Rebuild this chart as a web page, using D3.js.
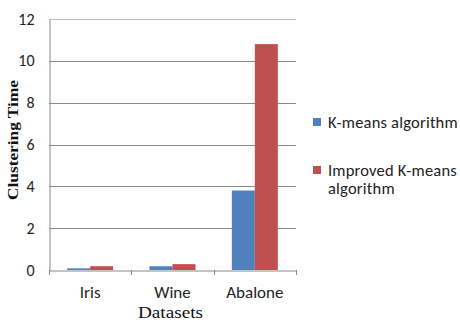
<!DOCTYPE html>
<html>
<head>
<meta charset="utf-8">
<script src="https://cdn.jsdelivr.net/npm/d3@7"></script>
<style>
  body { margin: 0; background: #fff; }
</style>
</head>
<body>
<svg id="chart" width="460" height="322"></svg>
<script>
// chart data
const datasets = ['Iris', 'Wine', 'Abalone'];
const seriesNames = ['K-means algorithm', 'Improved K-means algorithm'];
const kmeans = [0.08, 0.18, 3.8];
const improved = [0.18, 0.28, 10.8];
const yTicks = [0, 2, 4, 6, 8, 10, 12];
const colors = ['#4f81bd', '#c0504d'];

const svg = d3.select('#chart');
const margin = { top: 19, right: 164, bottom: 52, left: 49 };
const innerWidth = 460 - margin.left - margin.right;
const innerHeight = 322 - margin.top - margin.bottom;
const labelFont = 'Carlito, Lato, "Liberation Sans", sans-serif';

const g = svg.append('g')
  .attr('transform', `translate(${margin.left},${margin.top})`);

const x = d3.scaleBand().domain(datasets).range([0, innerWidth]);
const x1 = d3.scaleBand().domain([0, 1]).range([0, x.bandwidth()]).paddingOuter(0.79).paddingInner(0);
const y = d3.scaleLinear().domain([0, 12]).range([innerHeight, 0]);

// gridlines
g.append('g')
  .selectAll('line')
  .data(yTicks.filter(d => d > 0))
  .join('line')
  .attr('x1', 0)
  .attr('x2', innerWidth)
  .attr('y1', d => Math.round(y(d)) + 0.5)
  .attr('y2', d => Math.round(y(d)) + 0.5)
  .attr('stroke', d => d === 12 ? '#bbb' : '#888')
  .attr('stroke-width', 1);

// y axis
const yAxis = g.append('g')
  .attr('transform', 'translate(0.5,0)')
  .call(d3.axisLeft(y).tickValues(yTicks).tickSize(0).tickPadding(15));
yAxis.select('.domain').attr('stroke', '#888');
yAxis.selectAll('text')
  .attr('font-family', labelFont)
  .attr('font-size', '16px')
  .attr('fill', '#222');

// bars
const series = [kmeans, improved];
series.forEach((vals, si) => {
  g.append('g')
    .selectAll('rect')
    .data(vals)
    .join('rect')
    .attr('x', (d, i) => x(datasets[i]) + x1(si))
    .attr('y', d => y(d))
    .attr('width', x1.bandwidth())
    .attr('height', d => innerHeight - y(d))
    .attr('fill', colors[si]);
});

// x axis
const xAxis = g.append('g')
  .attr('transform', `translate(0,${Math.round(innerHeight) + 0.5})`)
  .call(d3.axisBottom(x).tickSize(0).tickPadding(15));
xAxis.select('.domain').attr('stroke', '#888');
xAxis.selectAll('text')
  .attr('font-family', labelFont)
  .attr('font-size', '17px')
  .attr('fill', '#222');
// tick marks between categories
g.append('g')
  .selectAll('line')
  .data([0, 1, 2, 3])
  .join('line')
  .attr('x1', d => Math.round(d * x.step()) + 0.5)
  .attr('x2', d => Math.round(d * x.step()) + 0.5)
  .attr('y1', innerHeight)
  .attr('y2', innerHeight + 5)
  .attr('stroke', '#888');

// axis titles
svg.append('text')
  .attr('x', 138)
  .attr('y', 318)
  .attr('font-family', '"Liberation Serif", serif')
  .attr('font-size', '16px')
  .attr('textLength', 65)
  .attr('lengthAdjust', 'spacingAndGlyphs')
  .attr('fill', '#111')
  .text('Datasets');

svg.append('text')
  .attr('transform', 'translate(18,200) rotate(-90)')
  .attr('font-family', '"Liberation Serif", serif')
  .attr('font-weight', 'bold')
  .attr('font-size', '15px')
  .attr('textLength', 120)
  .attr('lengthAdjust', 'spacingAndGlyphs')
  .attr('fill', '#111')
  .text('Clustering  Time');

// legend
const legend = svg.append('g').attr('transform', 'translate(313,0)');
const legendRows = [
  { lines: ['K-means algorithm'], y: 122 },
  { lines: ['Improved K-means', 'algorithm'], y: 170 }
];
legendRows.forEach((row, i) => {
  legend.append('rect')
    .attr('x', 0)
    .attr('y', row.y - 4)
    .attr('width', 8)
    .attr('height', 8)
    .attr('fill', colors[i]);
  row.lines.forEach((line, li) => {
    legend.append('text')
      .attr('x', 15)
      .attr('y', row.y + 6 + li * 18)
      .attr('font-family', labelFont)
      .attr('font-size', '16.5px')
      .attr('letter-spacing', '0.2px')
      .attr('fill', '#222')
      .text(line);
  });
});
</script>
</body>
</html>
